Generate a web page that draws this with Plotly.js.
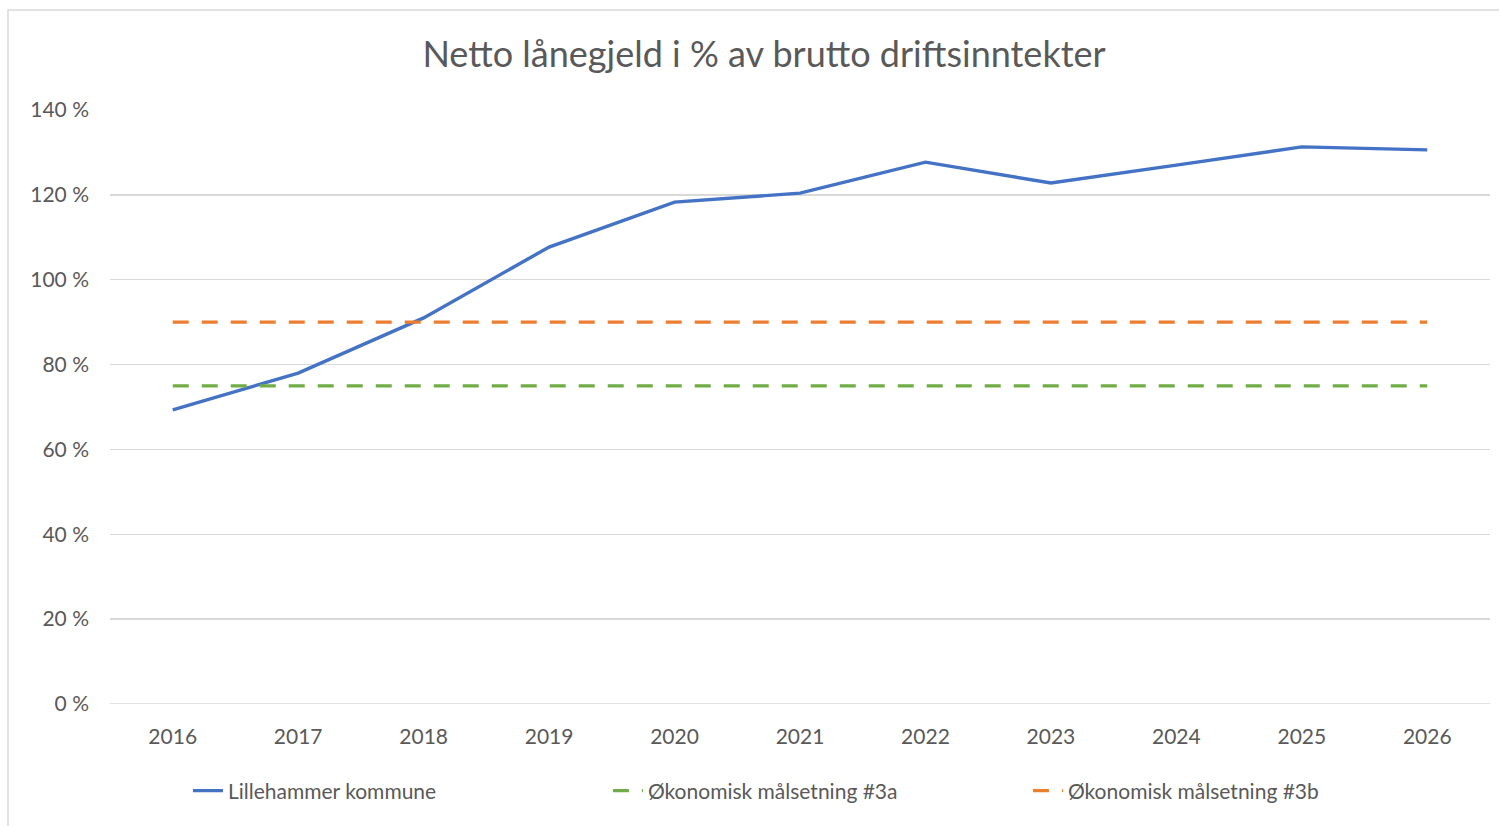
<!DOCTYPE html>
<html>
<head>
<meta charset="utf-8">
<script src="https://cdn.plot.ly/plotly-3.0.1.min.js"></script>
<style>html,body{margin:0;padding:0;background:#fff;}#chart{width:1499px;height:826px;}</style>
</head>
<body>
<div id="chart"></div>
<script>
const years = ["2016","2017","2018","2019","2020","2021","2022","2023","2024","2025","2026"];
const lillehammer = [69.3, 78.0, 91.0, 107.7, 118.3, 120.4, 127.7, 122.8, 127.0, 131.3, 130.6];
const maal3a = [75, 75, 75, 75, 75, 75, 75, 75, 75, 75, 75];
const maal3b = [90, 90, 90, 90, 90, 90, 90, 90, 90, 90, 90];
const yTicks = [0, 20, 40, 60, 80, 100, 120, 140];
const yTickText = yTicks.map(v => v + " %");

const font = "Lato, 'Open Sans', sans-serif";
const traces = [
  {x: years, y: lillehammer, name: "Lillehammer kommune", type: "scatter", mode: "lines",
   line: {color: "#4472C4", width: 3.4}},
  {x: years, y: maal3a, name: "Økonomisk målsetning #3a", type: "scatter", mode: "lines",
   line: {color: "#70AD47", width: 3.2, dash: "16px,13px"}},
  {x: years, y: maal3b, name: "Økonomisk målsetning #3b", type: "scatter", mode: "lines",
   line: {color: "#ED7D31", width: 3.2, dash: "16px,13px"}}
];
const layout = {
  width: 1499, height: 826,
  margin: {l: 110, r: 9, t: 110, b: 122},
  paper_bgcolor: "#fff", plot_bgcolor: "#fff",
  font: {family: font, color: "#595959", size: 21},
  title: {text: "Netto lånegjeld i % av brutto driftsinntekter", xref: "container", x: 764/1499, xanchor: "center",
          yref: "container", y: 1 - 54/826, yanchor: "middle",
          font: {family: font, size: 36, color: "#595959"}},
  xaxis: {type: "category", range: [-0.5, 10.5], showgrid: false, zeroline: false, showline: false,
          ticks: "", ticklabelstandoff: 18, tickfont: {size: 21, color: "#595959"}, fixedrange: true},
  yaxis: {range: [0, 140], tickvals: yTicks, ticktext: yTickText, showgrid: true, gridcolor: "#d9d9d9", gridwidth: 1.5,
          zeroline: false, showline: false, ticks: "", ticklabelstandoff: 20, tickfont: {size: 21, color: "#595959"}, fixedrange: true},
  showlegend: true,
  legend: {orientation: "h", x: 0.513, xanchor: "center", y: (704-791)/594, yanchor: "middle", font: {size: 21, color: "#595959"},
           entrywidth: 375, entrywidthmode: "pixels"},
  shapes: [
    {type: "rect", xref: "paper", yref: "paper", x0: (8-110)/1380, x1: 1.2, y0: -0.5, y1: (704-10)/594,
     line: {color: "#d9d9d9", width: 1.5}, fillcolor: "rgba(0,0,0,0)", layer: "below"},
    {type: "line", xref: "paper", yref: "y", x0: 0, x1: 1, y0: 0, y1: 0, line: {color: "#d9d9d9", width: 1.5}, layer: "below"}
  ]
};
Plotly.newPlot("chart", traces, layout, {displayModeBar: false, staticPlot: true});
</script>
</body>
</html>
